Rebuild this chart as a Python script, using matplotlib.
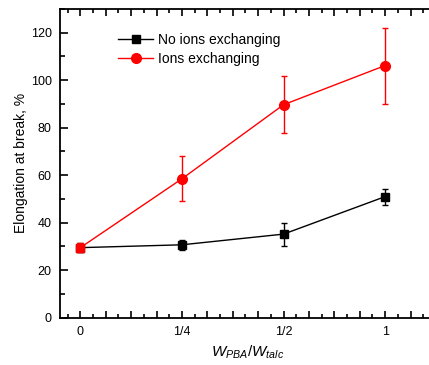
import numpy as np
import matplotlib
matplotlib.use('Agg')
import matplotlib.pyplot as plt
from matplotlib.lines import Line2D
from matplotlib.ticker import MultipleLocator, FixedLocator, FixedFormatter

plt.rcParams['font.family'] = ['Liberation Sans', 'DejaVu Sans']
plt.rcParams['mathtext.fontset'] = 'custom'
plt.rcParams['mathtext.it'] = 'Liberation Sans:italic'
plt.rcParams['mathtext.rm'] = 'Liberation Sans'

# data
ratios = ['0', '1/4', '1/2', '1']
no_ions = [29.5, 30.7, 35.2, 51.0]
no_ions_err = [1.8, 2.0, 4.8, 3.4]
ions = [29.5, 58.5, 89.7, 106.2]
ions_err = [2.0, 9.5, 12.1, 16.0]

x = np.arange(len(ratios))

fig = plt.figure(figsize=(4.29, 3.65), dpi=100)
ax = fig.add_axes([60/429, 47.3/365, 376/429, 308.7/365])

ax.errorbar(x, no_ions, yerr=no_ions_err, color='black', lw=1, marker='s', ms=6,
            capsize=2.5, elinewidth=1, capthick=1, zorder=3)
ax.errorbar(x, ions, yerr=ions_err, color='red', lw=1, marker='o', ms=7,
            markevery=slice(1, None), capsize=2.5, elinewidth=1, capthick=1, zorder=4)
# the shared starting point shows up as a red square in the original
ax.plot(x[:1], ions[:1], 's', color='red', ms=6, zorder=6)

ax.set_xlim(-0.2, 3.5)
ax.set_ylim(0, 130)

ticks = np.arange(0.0, 3.51, 0.25)
labs = [ratios[int(round(t))] if abs(t - round(t)) < 1e-6 and int(round(t)) < len(ratios) else '' for t in ticks]
ax.xaxis.set_major_locator(FixedLocator(ticks))
ax.xaxis.set_major_formatter(FixedFormatter(labs))
ax.xaxis.set_minor_locator(MultipleLocator(0.125))

ax.yaxis.set_major_locator(MultipleLocator(20))
ax.yaxis.set_minor_locator(MultipleLocator(10))

ax.tick_params(which='both', direction='in', top=True, right=False, labelsize=9, width=1.2)
ax.tick_params(which='major', length=6, pad=6)
ax.tick_params(which='minor', length=3.5)
ax.tick_params(axis='x', which='major', length=5)
ax.tick_params(axis='x', which='minor', length=3)
for s in ['left', 'bottom', 'top']:
    ax.spines[s].set_linewidth(1.3)
ax.spines['right'].set_visible(False)

ax.set_ylabel('Elongation at break, %', fontsize=10, labelpad=2)
ax.set_xlabel(r'$\mathit{W}_{\mathit{PBA}}/\mathit{W}_{\mathit{talc}}$', fontsize=11, labelpad=4)

handles = [Line2D([], [], color='black', lw=1, marker='s', ms=6),
           Line2D([], [], color='red', lw=1, marker='o', ms=7)]
ax.legend(handles, ['No ions exchanging', 'Ions exchanging'], loc='upper left',
          bbox_to_anchor=(0.14, 0.94), frameon=False, fontsize=10,
          handlelength=2.5, handletextpad=0.4, labelspacing=0.35, borderaxespad=0)

fig.savefig('out.png', dpi=100)
